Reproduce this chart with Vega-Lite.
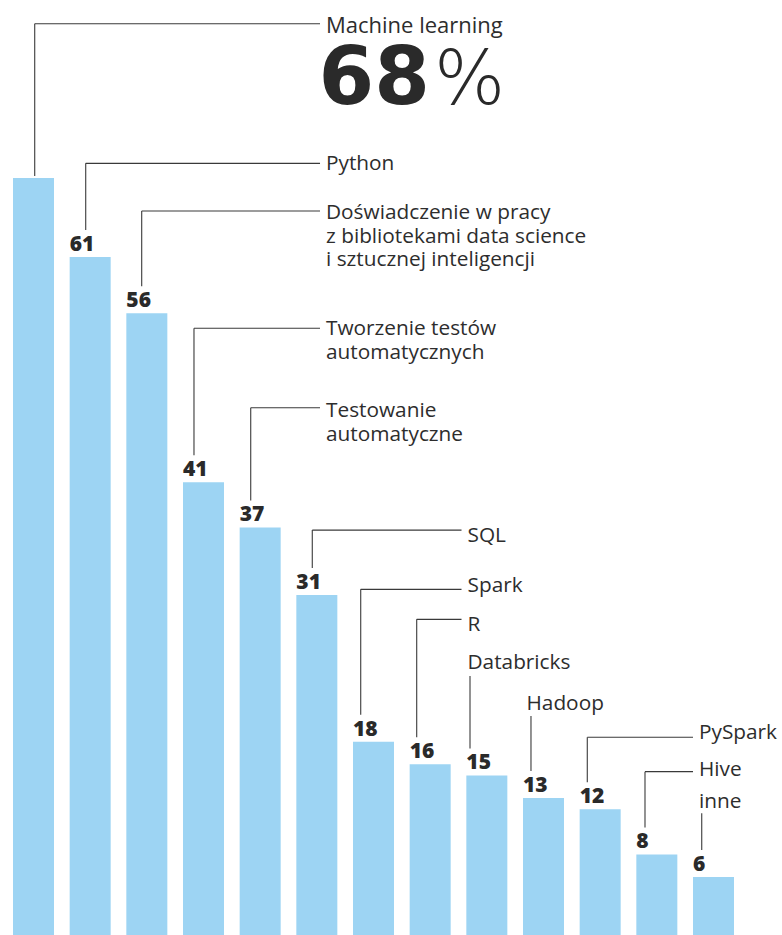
{
  "$schema": "https://vega.github.io/schema/vega-lite/v6.json",
  "width": 782,
  "height": 935,
  "autosize": {"type": "fit", "contains": "padding"},
  "padding": 0,
  "background": "#ffffff",
  "config": {"view": {"stroke": null}},
  "data": {
    "values": [
      {"rank": 1, "skill": "Machine learning", "value": 68, "label": ["Machine learning"], "lx": 1.021, "ly": 81.68, "tx": 6.162, "ty": 80.83},
      {"rank": 2, "skill": "Python", "value": 61, "label": ["Python"], "lx": 1.921, "ly": 69.30, "tx": 6.162, "ty": 68.71},
      {"rank": 3, "skill": "Doświadczenie w pracy z bibliotekami data science i sztucznej inteligencji", "value": 56, "label": ["Doświadczenie w pracy", "z bibliotekami data science", "i sztucznej inteligencji"], "lx": 2.909, "ly": 65.07, "tx": 6.162, "ty": 64.36},
      {"rank": 4, "skill": "Tworzenie testów automatycznych", "value": 41, "label": ["Tworzenie testów", "automatycznych"], "lx": 3.832, "ly": 54.67, "tx": 6.162, "ty": 54.07},
      {"rank": 5, "skill": "Testowanie automatyczne", "value": 37, "label": ["Testowanie", "automatyczne"], "lx": 4.833, "ly": 47.62, "tx": 6.162, "ty": 46.77},
      {"rank": 6, "skill": "SQL", "value": 31, "label": ["SQL"], "lx": 5.920, "ly": 36.77, "tx": 8.659, "ty": 35.74},
      {"rank": 7, "skill": "Spark", "value": 18, "label": ["Spark"], "lx": 6.774, "ly": 31.51, "tx": 8.659, "ty": 31.30},
      {"rank": 8, "skill": "R", "value": 16, "label": ["R"], "lx": 7.762, "ly": 28.85, "tx": 8.659, "ty": 27.82},
      {"rank": 9, "skill": "Databricks", "value": 15, "label": ["Databricks"], "lx": 8.703, "ly": 23.82, "tx": 8.659, "ty": 24.42},
      {"rank": 10, "skill": "Hadoop", "value": 13, "label": ["Hadoop"], "lx": 9.779, "ly": 20.28, "tx": 9.700, "ty": 20.81},
      {"rank": 11, "skill": "PySpark", "value": 12, "label": ["PySpark"], "lx": 10.773, "ly": 18.39, "tx": 12.744, "ty": 18.21},
      {"rank": 12, "skill": "Hive", "value": 8, "label": ["Hive"], "lx": 11.791, "ly": 15.34, "tx": 12.744, "ty": 14.98},
      {"rank": 13, "skill": "inne", "value": 6, "label": ["inne"], "lx": 12.792, "ly": 11.65, "tx": 12.744, "ty": 12.09}
    ]
  },
  "layer": [
    {
      "mark": {"type": "bar", "width": 41, "color": "#9dd4f3", "orient": "vertical"},
      "encoding": {
        "x": {"field": "rank", "type": "quantitative", "axis": null, "scale": {"domain": [0.4088, 14.2088], "nice": false, "zero": false, "padding": 0}},
        "y": {"field": "value", "type": "quantitative", "axis": null, "scale": {"domain": [0.8515, 83.786], "nice": false, "zero": false, "clamp": true, "padding": 0}}
      }
    },
    {
      "transform": [{"filter": "datum.rank === 1"}],
      "mark": {"type": "rule", "color": "#4a4a4a", "strokeWidth": 1.2, "y2Offset": -2},
      "encoding": {
        "x": {"field": "lx", "type": "quantitative"},
        "y": {"field": "ly", "type": "quantitative"},
        "y2": {"field": "value"}
      }
    },
    {
      "transform": [{"filter": "datum.rank !== 1"}],
      "mark": {"type": "rule", "color": "#4a4a4a", "strokeWidth": 1.2, "y2Offset": -27},
      "encoding": {
        "x": {"field": "lx", "type": "quantitative"},
        "y": {"field": "ly", "type": "quantitative"},
        "y2": {"field": "value"}
      }
    },
    {
      "transform": [{"filter": {"not": {"field": "skill", "oneOf": ["Databricks", "Hadoop", "inne"]}}}],
      "mark": {"type": "rule", "color": "#3a3a3a", "strokeWidth": 1.2, "x2Offset": -6},
      "encoding": {
        "x": {"field": "lx", "type": "quantitative"},
        "x2": {"field": "tx"},
        "y": {"field": "ly", "type": "quantitative"}
      }
    },
    {
      "mark": {"type": "text", "align": "left", "baseline": "alphabetic", "font": "Open Sans", "color": "#2d2d2d", "lineHeight": 23.5},
      "encoding": {
        "x": {"field": "tx", "type": "quantitative"},
        "y": {"field": "ty", "type": "quantitative"},
        "text": {"field": "label"},
        "size": {"condition": {"test": "datum.rank === 1", "value": 22}, "value": 20.8}
      }
    },
    {
      "transform": [{"filter": "datum.rank !== 1"}],
      "mark": {"type": "text", "align": "left", "baseline": "alphabetic", "font": "Open Sans", "fontWeight": 800, "fontSize": 21, "color": "#2a2a2a", "dx": -20.5, "dy": -6},
      "encoding": {
        "x": {"field": "rank", "type": "quantitative"},
        "y": {"field": "value", "type": "quantitative"},
        "text": {"field": "value", "type": "quantitative"}
      }
    },
    {
      "transform": [{"filter": "datum.rank === 1"}],
      "mark": {"type": "text", "align": "left", "baseline": "alphabetic", "font": "DejaVu Sans", "fontWeight": "bold", "fontSize": 80, "color": "#2a2a2a", "dx": -7.5, "dy": 71},
      "encoding": {
        "x": {"field": "tx", "type": "quantitative"},
        "y": {"field": "ty", "type": "quantitative"},
        "text": {"field": "value", "type": "quantitative"}
      }
    },
    {
      "transform": [{"filter": "datum.rank === 1"}],
      "mark": {"type": "text", "align": "left", "baseline": "alphabetic", "font": "DejaVu Sans", "fontWeight": 200, "fontSize": 75, "color": "#2a2a2a", "dx": 108, "dy": 71, "text": "%"},
      "encoding": {
        "x": {"field": "tx", "type": "quantitative"},
        "y": {"field": "ty", "type": "quantitative"}
      }
    }
  ]
}
